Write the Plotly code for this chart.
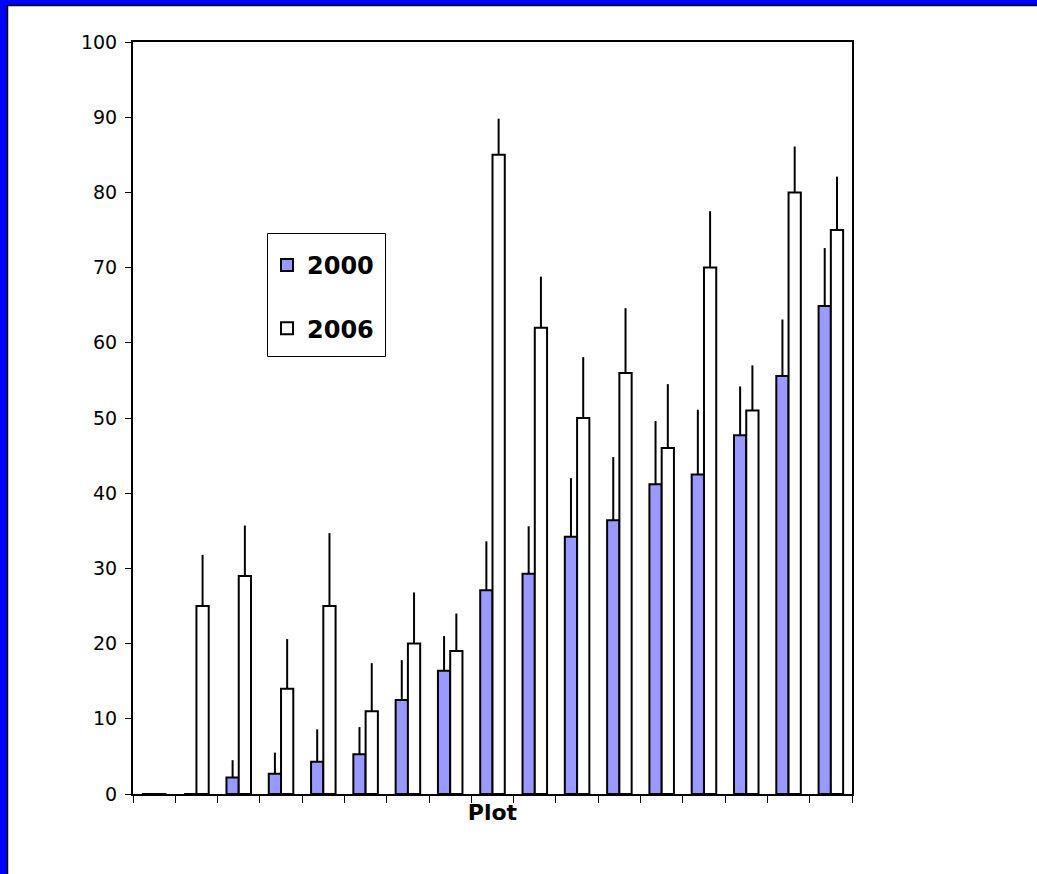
import plotly.graph_objects as go

categories = [str(i) for i in range(1, 18)]
y2000 = [0, 0, 2.2, 2.7, 4.3, 5.3, 12.5, 16.4, 27.1, 29.3, 34.2, 36.4, 41.2, 42.5, 47.7, 55.6, 64.9]
err2000 = [0, 0, 2.3, 2.8, 4.3, 3.6, 5.3, 4.6, 6.5, 6.3, 7.8, 8.4, 8.4, 8.6, 6.5, 7.5, 7.7]
y2006 = [0, 25, 29, 14, 25, 11, 20, 19, 85, 62, 50, 56, 46, 70, 51, 80, 75]
err2006 = [0, 6.8, 6.7, 6.6, 9.7, 6.4, 6.8, 5.0, 4.8, 6.8, 8.1, 8.6, 8.5, 7.5, 6.0, 6.1, 7.1]
zeros = [0] * len(categories)

FONT = "DejaVu Sans"
W, H = 1037, 874
L, R, T, B = 133, 1037 - 852, 42, 874 - 794

fig = go.Figure()
fig.add_trace(go.Bar(
    x=categories, y=y2000, name="2000", legendgroup="a",
    marker=dict(color="#9999FF", line=dict(color="black", width=2)),
    error_y=dict(type="data", array=err2000, arrayminus=zeros, symmetric=False,
                 color="black", thickness=2, width=0),
))
fig.add_trace(go.Bar(
    x=categories, y=y2006, name="2006", legendgroup="b",
    marker=dict(color="white", line=dict(color="black", width=2)),
    error_y=dict(type="data", array=err2006, arrayminus=zeros, symmetric=False,
                 color="black", thickness=2, width=0),
))

pw = W - L - R
ph = H - T - B
def px_x(p):
    return (p - L) / pw
def px_y(p):
    return (H - B - p) / ph

shapes = [
    # blue frame on left and top
    dict(type="rect", xref="paper", yref="paper", x0=px_x(-5), x1=px_x(7), y0=px_y(H + 5), y1=px_y(-5),
         fillcolor="#0000FF", line=dict(width=0), layer="above"),
    dict(type="rect", xref="paper", yref="paper", x0=px_x(-5), x1=px_x(W + 5), y0=px_y(5), y1=px_y(-5),
         fillcolor="#0000FF", line=dict(width=0), layer="above"),
    dict(type="line", xref="paper", yref="paper", x0=px_x(7.5), x1=px_x(7.5), y0=px_y(H + 5), y1=px_y(5),
         line=dict(color="black", width=1.5), layer="above"),
    dict(type="line", xref="paper", yref="paper", x0=px_x(7), x1=px_x(W + 5), y0=px_y(5.5), y1=px_y(5.5),
         line=dict(color="black", width=1.5), layer="above"),
    # legend box
    dict(type="rect", xref="paper", yref="paper", x0=px_x(267.5), x1=px_x(385.5), y0=px_y(356.5), y1=px_y(233.5),
         fillcolor="white", line=dict(color="black", width=1), layer="below"),
]

fig.update_layout(
    width=W, height=H,
    margin=dict(l=L, r=R, t=T, b=B, autoexpand=False),
    paper_bgcolor="white", plot_bgcolor="rgba(0,0,0,0)",
    barmode="group", bargap=0.42, bargroupgap=0,
    font=dict(family=FONT, color="black", size=19),
    showlegend=True,
    legend=dict(
        x=px_x(267), y=px_y(243), xanchor="left", yanchor="top",
        borderwidth=0, bgcolor="rgba(0,0,0,0)",
        font=dict(family=FONT, size=24, color="black", weight="bold"),
        traceorder="grouped", tracegroupgap=29,
        itemwidth=30,
    ),
    shapes=shapes,
    xaxis=dict(
        type="category", showticklabels=False, ticks="outside", tickson="boundaries",
        ticklen=7, tickcolor="black", tickwidth=1,
        showline=True, linecolor="black", linewidth=2, mirror=True,
        showgrid=False, zeroline=False,
        title=dict(text="<b>Plot</b>", font=dict(family=FONT, size=22, color="black"), standoff=10),
    ),
    yaxis=dict(
        range=[0, 100], dtick=10, tick0=0, ticks="outside", ticklen=6,
        tickcolor="black", tickwidth=1,
        showline=True, linecolor="black", linewidth=2, mirror=True,
        showgrid=False, zeroline=False, ticklabelstandoff=4,
        tickfont=dict(family=FONT, size=19, color="black"),
    ),
)

fig.write_html("out.html", config={"displayModeBar": False},
               post_script="document.body.style.margin='0px';")
